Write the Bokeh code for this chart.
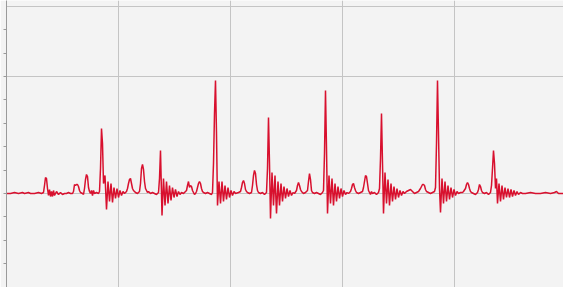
from bokeh.plotting import figure
from bokeh.models import FixedTicker, CustomJSTickFormatter
from bokeh.embed import file_html
from bokeh.resources import INLINE

# sample index (grid every 112 samples) and amplitude (grid every 117 units)
t = [6, 10, 14, 18, 22, 24, 28, 30, 34, 38, 41,
     43, 44, 45, 46, 47, 48, 49, 50, 51, 52, 53, 54, 56, 58, 60, 62, 64, 66, 68, 70, 72,
     73, 74, 75, 76, 77, 78, 79, 80, 82, 83,
     84, 85, 86, 87, 88, 89, 90, 91, 92, 93, 94, 96, 98,
     99, 100, 101, 102, 103, 104.5, 106, 107.5, 109, 110.5, 112, 113.5, 115, 116.5, 118, 119.5, 121, 122.5, 124, 126,
     127, 128, 129, 130, 131, 132, 133, 134, 135, 137, 139,
     140, 141, 142, 143, 144, 145, 146, 147, 148, 150, 152, 154, 156, 158,
     159, 160, 161.5, 163, 164.5, 166, 167.5, 169, 170.5, 172, 173.5, 175, 176.5, 178, 179.5, 181, 183,
     186, 187, 188, 189, 190, 191, 192, 193, 194, 195, 196,
     197, 198, 199, 200, 201, 202, 203, 205, 207, 209, 211, 212,
     213, 214, 215, 216, 217, 218.5, 220, 221.5, 223, 224.5, 226, 227.5, 229, 230.5, 232, 233.5, 235, 238, 240,
     241, 242, 243, 244, 245, 246, 247, 249, 251,
     252, 253, 254, 255, 256, 257, 258, 260, 262, 264, 266,
     267, 268, 269, 270, 271.5, 273, 274.5, 276, 277.5, 279, 280.5, 282, 283.5, 285, 286.5, 288, 289.5, 291, 292.5, 294, 296,
     297, 298, 299, 300, 301, 302, 303, 305, 307,
     308, 309, 310, 311, 312, 314, 316, 318, 320, 322, 323,
     324, 325, 326, 327, 328.5, 330, 331.5, 333, 334.5, 336, 337.5, 339, 340.5, 342, 343.5, 345, 346.5, 348, 350,
     351, 352, 353, 354, 355, 356, 358, 360, 362,
     363, 364, 365, 366, 367, 368, 369, 370, 371, 372, 374, 376, 378, 379,
     380, 381, 382, 383, 384.5, 386, 387.5, 389, 390.5, 392, 393.5, 395, 396.5, 398, 399.5, 401, 402.5, 404, 406, 408, 410, 412, 414, 416, 418, 420,
     421, 422, 423, 424, 425, 426, 428, 430, 432, 434, 435,
     436, 437, 438, 439, 440, 441.5, 443, 444.5, 446, 447.5, 449, 450.5, 452, 453.5, 455, 456.5, 458, 460, 462, 463, 465,
     466, 467, 468, 469, 470, 471, 473, 475, 477, 478,
     479, 480, 481, 482, 484, 486, 488, 490, 491,
     492, 493, 494, 495, 496, 497, 498.5, 500, 501.5, 503, 504.5, 506, 507.5, 509, 510.5, 512, 513.5, 515, 516.5, 518, 520, 522, 525, 530, 535, 540, 545, 550, 554, 556, 558, 563]

v = [0, 0, 1, 0, 1, 0, 1, 0, 0, 1, 0,
     1, 8, 16, 15, 5, -2, 4, -3, 2, -3, 3, -2, 2, -1, 1, -1, 0, 0, 1, 0, 0,
     2, 9, 8, 9, 9, 7, 3, 1, 0, -1,
     5, 14, 19, 17, 6, 2, 0, 3, -2, 3, 0, 1, 0,
     2, 25, 65, 50, 10, 18, -16, 12, -8, 10, -9, 6, -5, 5, -4, 3, -2, 2, 0, 2,
     5, 10, 14, 15, 10, 5, 3, 2, 1, 0, 2,
     10, 25, 29, 24, 12, 5, 3, 1, 2, 0, 1, 0, -1, 1,
     15, 43, -22, 15, -12, 12, -10, 8, -7, 6, -4, 4, -3, 2, -1, 1, 0,
     3, 8, 12, 6, 8, 7, 3, 1, -1, 0, 2,
     6, 10, 12, 10, 5, 2, 1, 0, 1, 0, -1, 1,
     30, 80, 113, 60, -12, 12, -10, 12, -8, 8, -6, 6, -4, 3, -2, 2, 0, 1, 2,
     6, 11, 13, 10, 4, 2, 1, 0, 1,
     8, 18, 23, 20, 9, 3, 1, 0, 1, -1, 1,
     25, 76, 30, -25, 21, -12, 18, -20, 12, -12, 10, -8, 7, -5, 5, -3, 3, -2, 1, 0, 3,
     8, 11, 8, 4, 2, 1, 0, 1, 3,
     12, 20, 14, 3, 1, 0, 1, 0, -1, 1, 3,
     40, 103, 45, -20, 18, -10, 15, -12, 10, -8, 7, -5, 5, -3, 3, -1, 1, 0, 2,
     5, 9, 10, 6, 3, 1, 0, 1, 2,
     6, 12, 18, 17, 10, 3, 1, -1, 2, 0, 1, -1, 1, 5,
     35, 80, 30, -20, 21, -10, 14, -12, 10, -8, 7, -6, 5, -4, 3, -2, 2, 0, 2, 3, 4, 2, 0, 1, 2, 5,
     7, 9, 9, 8, 4, 2, 1, 0, 1, 2, 6,
     50, 113, 60, 5, -19, 15, -10, 12, -8, 8, -6, 6, -4, 4, -2, 2, 0, 1, 1, 2, 5,
     9, 11, 9, 5, 2, 1, 0, -1, 1, 4,
     9, 7, 3, 1, 0, 1, -1, 1, 8,
     25, 43, 30, 5, 15, -10, 10, -8, 8, -6, 6, -4, 5, -4, 4, -3, 3, -2, 2, -1, 1, 0, 0, 1, 0, 0, 1, 0, 1, 2, 0, 0]

assert len(t) == len(v), (len(t), len(v))

grid_x = [118, 230, 342, 454]
grid_y = [-117, 0, 117, 187]
axis_ticks = [-70.2, -46.8, -23.4, 0, 23.4, 46.8, 70.2, 93.6, 117, 140.4, 163.8]

p = figure(width=563, height=287, x_range=(6, 563), y_range=(-94, 193),
           output_backend="svg", toolbar_location=None,
           min_border=0, min_border_left=6)

p.background_fill_color = "#f3f3f3"
p.border_fill_color = "#f3f3f3"
p.outline_line_color = None

p.xaxis.visible = False
p.yaxis.ticker = FixedTicker(ticks=axis_ticks)
p.yaxis.formatter = CustomJSTickFormatter(code="return ''")
p.yaxis.major_label_standoff = 0
p.yaxis.major_tick_out = 3
p.yaxis.major_tick_in = 0
p.yaxis.minor_tick_out = 0
p.yaxis.axis_line_color = "#9a9a9a"
p.yaxis.major_tick_line_color = "#9a9a9a"

p.xgrid.ticker = FixedTicker(ticks=grid_x)
p.ygrid.ticker = FixedTicker(ticks=grid_y)
p.xgrid.grid_line_color = "#c4c4c4"
p.ygrid.grid_line_color = "#c4c4c4"

p.line(t, v, line_color="#d8102e", line_width=1.5)

open("out.html", "w").write(file_html(p, INLINE))
